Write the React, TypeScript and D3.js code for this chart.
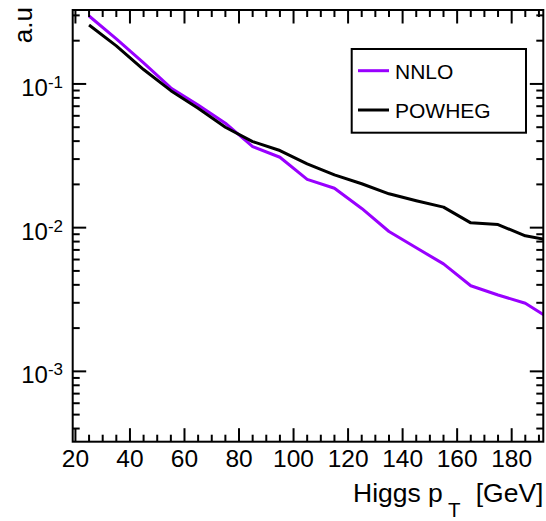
import * as d3 from "d3";
import { useEffect, useRef } from "react";

// bin centres [GeV]
const ptValues = [25, 35, 45, 55, 65, 75, 85, 95, 105, 115, 125, 135, 145, 155, 165, 175, 185, 195];
const nnloValues = [0.297, 0.206, 0.14, 0.0938, 0.0714, 0.0533, 0.0366, 0.0309, 0.0217, 0.0188, 0.0136, 0.0094, 0.00724, 0.0056, 0.00394, 0.0034, 0.00298, 0.00226];
const powhegValues = [0.257, 0.184, 0.126, 0.0898, 0.0678, 0.05, 0.0397, 0.0344, 0.0278, 0.0233, 0.0202, 0.0172, 0.0154, 0.0139, 0.0108, 0.0105, 0.00877, 0.0081];
const xTickLabels = [20, 40, 60, 80, 100, 120, 140, 160, 180];
const yTickExponents = [-1, -2, -3];
const seriesNames = ["NNLO", "POWHEG"];
const seriesColors = ["#9900ff", "#000000"];

export default function App() {
  const ref = useRef<SVGSVGElement>(null);

  useEffect(() => {
    if (!ref.current) return;
    const svg = d3.select(ref.current);
    svg.selectAll("*").remove();

    const width = 546,
      height = 521,
      frame = { left: 72.7, right: 543.3, top: 10, bottom: 441.7 };
    const font = "Liberation Sans, Arial, sans-serif";

    svg.attr("width", width).attr("height", height);

    const x = d3.scaleLinear().domain([19, 191.6]).range([frame.left, frame.right]);
    const y = d3.scaleLog().domain([3.24e-4, 0.327]).range([frame.bottom, frame.top]);

    svg
      .append("defs")
      .append("clipPath")
      .attr("id", "frameClip")
      .append("rect")
      .attr("x", frame.left)
      .attr("y", frame.top)
      .attr("width", frame.right - frame.left)
      .attr("height", frame.bottom - frame.top);

    // curves
    const series = [nnloValues, powhegValues];
    const line = d3
      .line<number>()
      .x((_, i) => x(ptValues[i]))
      .y((d) => y(d));

    svg
      .append("g")
      .attr("clip-path", "url(#frameClip)")
      .selectAll("path")
      .data(series)
      .enter()
      .append("path")
      .attr("d", (d) => line(d))
      .attr("fill", "none")
      .attr("stroke", (_, i) => seriesColors[i])
      .attr("stroke-width", 3)
      .attr("stroke-linejoin", "round");

    // ticks, drawn inward on all four sides
    const ticks = svg.append("g").attr("stroke", "#000").attr("stroke-width", 2);
    const xMinor = d3.range(20, 192, 5);
    xMinor.forEach((v) => {
      const len = v % 20 === 0 ? 13.5 : 7;
      ticks.append("line").attr("x1", x(v)).attr("x2", x(v)).attr("y1", frame.bottom).attr("y2", frame.bottom - len);
      ticks.append("line").attr("x1", x(v)).attr("x2", x(v)).attr("y1", frame.top).attr("y2", frame.top + len);
    });
    const [y0, y1] = y.domain();
    const yTicks: { v: number; major: boolean }[] = [];
    for (let e = -4; e <= 0; e++) {
      for (let m = 1; m <= 9; m++) {
        const v = m * Math.pow(10, e);
        if (v >= y0 && v <= y1) yTicks.push({ v, major: m === 1 });
      }
    }
    yTicks.forEach(({ v, major }) => {
      const len = major ? 13.5 : 7;
      ticks.append("line").attr("x1", frame.left).attr("x2", frame.left + len).attr("y1", y(v)).attr("y2", y(v));
      ticks.append("line").attr("x1", frame.right).attr("x2", frame.right - len).attr("y1", y(v)).attr("y2", y(v));
    });

    // frame
    svg
      .append("rect")
      .attr("x", frame.left)
      .attr("y", frame.top)
      .attr("width", frame.right - frame.left)
      .attr("height", frame.bottom - frame.top)
      .attr("fill", "none")
      .attr("stroke", "#000")
      .attr("stroke-width", 2);

    // x tick labels
    svg
      .append("g")
      .selectAll("text")
      .data(xTickLabels)
      .enter()
      .append("text")
      .attr("x", (d) => x(d))
      .attr("y", 466.7)
      .attr("text-anchor", "middle")
      .attr("font-family", font)
      .attr("font-size", 24.5)
      .text((d) => d);

    // y tick labels 10^n
    const yl = svg
      .append("g")
      .selectAll("text")
      .data(yTickExponents)
      .enter()
      .append("text")
      .attr("x", 63)
      .attr("y", (d) => y(Math.pow(10, d)) + 12)
      .attr("text-anchor", "end")
      .attr("font-family", font)
      .attr("font-size", 24);
    yl.append("tspan").text("10");
    yl.append("tspan")
      .attr("dy", -8)
      .attr("font-size", 17)
      .text((d) => String(d));

    // x title: Higgs p_T [GeV]
    const title = svg.append("g").attr("font-family", font);
    title.append("text").attr("x", 353).attr("y", 501.5).attr("font-size", 26.5).text("Higgs p");
    title.append("text").attr("x", 448).attr("y", 516.5).attr("font-size", 20.5).text("T");
    title
      .append("text")
      .attr("x", 543.5)
      .attr("y", 501.5)
      .attr("text-anchor", "end")
      .attr("font-size", 26.5)
      .text("[GeV]");

    // y title
    svg
      .append("text")
      .attr("transform", `translate(32, 7) rotate(-90)`)
      .attr("text-anchor", "end")
      .attr("font-family", font)
      .attr("font-size", 26)
      .text("a.u");

    // legend
    const legend = svg.append("g");
    legend
      .append("rect")
      .attr("x", 351.7)
      .attr("y", 49)
      .attr("width", 526 - 351.7)
      .attr("height", 132.7 - 49)
      .attr("fill", "#fff")
      .attr("stroke", "#000")
      .attr("stroke-width", 2);
    const rows = [70.7, 110];
    seriesNames.forEach((name, i) => {
      legend
        .append("line")
        .attr("x1", 358)
        .attr("x2", 389)
        .attr("y1", rows[i])
        .attr("y2", rows[i])
        .attr("stroke", seriesColors[i])
        .attr("stroke-width", 3);
      legend
        .append("text")
        .attr("x", 395)
        .attr("y", rows[i] + 7.8)
        .attr("font-family", font)
        .attr("font-size", 21)
        .text(name);
    });
  }, []);

  return <svg ref={ref} style={{ position: "absolute", left: 0, top: 0 }} />;
}
